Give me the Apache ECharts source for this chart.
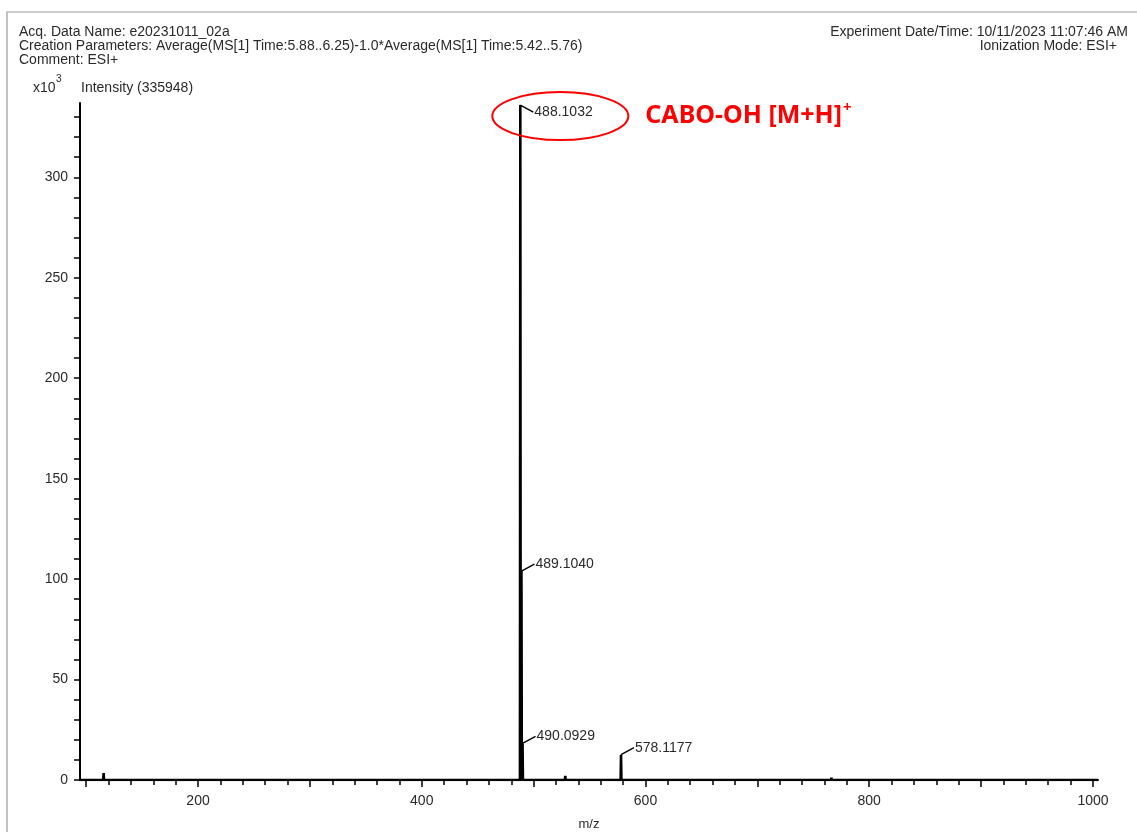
<!DOCTYPE html>
<html>
<head>
<meta charset="utf-8">
<script src="https://cdn.jsdelivr.net/npm/echarts@6/dist/echarts.min.js"></script>
<style>
  html, body { margin: 0; padding: 0; background: #fff; }
  #spec { width: 1137px; height: 832px; }
</style>
</head>
<body>
<div id="spec"></div>
<script>
// peaks (m/z, intensity in x10^3)
var peakMz = [115.6, 160.5, 215.0, 488.1032, 489.1040, 490.0929, 528.3, 578.1177, 766.2]
var peakInt = [3.4, 0.5, 0.6, 335.948, 104.0, 18.2, 2.0, 12.6, 1.2]
// peaks that carry an m/z label
var labelMz = [488.1032, 489.1040, 490.0929, 578.1177]

// axis ticks / tick labels
var xMin = 94.5
var xMax = 1004.5
var yMax = 337
var xMinorTicks = [100, 120, 140, 160, 180, 200, 220, 240, 260, 280, 300, 320, 340, 360, 380, 400, 420, 440, 460, 480, 500,
  520, 540, 560, 580, 600, 620, 640, 660, 680, 700, 720, 740, 760, 780, 800, 820, 840, 860, 880, 900, 920, 940, 960, 980, 1000]
var xMajorTicks = [100, 200, 300, 400, 500, 600, 700, 800, 900, 1000]
var xLabels = [200, 400, 600, 800, 1000]
var yTicks = [0, 10, 20, 30, 40, 50, 60, 70, 80, 90, 100, 110, 120, 130, 140, 150, 160, 170, 180, 190, 200,
  210, 220, 230, 240, 250, 260, 270, 280, 290, 300, 310, 320, 330]
var yLabels = [0, 50, 100, 150, 200, 250, 300]

var FONT = 'Liberation Sans, Arial, sans-serif'
var TXT = '#2a2a2a'

// stick spectrum: baseline with narrow peaks
var specData = [[xMin, 0]]
peakMz.forEach(function (m, i) {
  specData.push([m - 0.35, 0])
  specData.push([m, peakInt[i]])
  specData.push([m + 0.35, 0])
})
specData.push([xMax, 0])

var labelData = labelMz.map(function (m) {
  return [m, peakInt[peakMz.indexOf(m)]]
})

var chart = echarts.init(document.getElementById('spec'))

var option = {
  animation: false,
  backgroundColor: '#fff',
  grid: { left: 80, right: 39, top: 103, bottom: 52, containLabel: false, outerBoundsMode: 'none' },
  xAxis: [{
    type: 'value',
    min: xMin,
    max: xMax,
    name: 'm/z',
    nameLocation: 'middle',
    nameGap: 38,
    nameTextStyle: { color: TXT, fontFamily: FONT, fontSize: 13 },
    axisLine: { onZero: false, lineStyle: { color: '#000', width: 2 } },
    axisTick: { show: true, length: 5, customValues: xMinorTicks, lineStyle: { color: '#000', width: 1.5 } },
    axisLabel: {
      customValues: xLabels,
      color: TXT,
      fontFamily: FONT,
      fontSize: 14,
      margin: 14,
      formatter: function (v) { return String(v) }
    },
    splitLine: { show: false }
  }, {
    type: 'value',
    position: 'bottom',
    min: xMin,
    max: xMax,
    axisLine: { show: false },
    axisTick: { show: true, length: 7, customValues: xMajorTicks, lineStyle: { color: '#000', width: 1.5 } },
    axisLabel: { show: false },
    splitLine: { show: false }
  }],
  yAxis: {
    type: 'value',
    min: 0,
    max: yMax,
    axisLine: { show: true, onZero: false, lineStyle: { color: '#000', width: 2 } },
    axisTick: { show: true, length: 6, customValues: yTicks, lineStyle: { color: '#000', width: 1.5 } },
    axisLabel: { customValues: yLabels, color: TXT, fontFamily: FONT, fontSize: 14, margin: 12 },
    splitLine: { show: false }
  },
  series: [{
    type: 'line',
    data: specData,
    showSymbol: false,
    symbol: 'none',
    lineStyle: { color: '#000', width: 2.6 },
    z: 3
  }, {
    type: 'custom',
    data: labelData,
    clip: false,
    z: 4,
    renderItem: function (params, api) {
      var p = api.coord([api.value(0), api.value(1)])
      // label of the tallest peak hangs down, the others go up
      var dy = p[1] < params.coordSys.y + 20 ? 7 : -7
      var x1 = p[0] + 13
      var y1 = p[1] + dy
      return {
        type: 'group',
        children: [{
          type: 'line',
          shape: { x1: p[0], y1: p[1], x2: x1, y2: y1 },
          style: { stroke: '#000', lineWidth: 1.4 }
        }, {
          type: 'text',
          style: {
            text: api.value(0).toFixed(4),
            x: x1 + 1,
            y: y1,
            verticalAlign: 'middle',
            fill: TXT,
            font: '14px ' + FONT
          }
        }]
      }
    }
  }]
}

chart.setOption(option)

// header texts, frame and annotation
var peakTop = chart.convertToPixel({ xAxisIndex: 0, yAxisIndex: 0 }, [488.1032, 335.948])
chart.setOption({
  graphic: [
    { type: 'polyline', shape: { points: [[7, 832], [7, 12], [1137, 12]] }, style: { stroke: '#9a9a9a', lineWidth: 1.2, fill: 'none' } },
    { type: 'text', left: 19, top: 25, style: { text: 'Acq. Data Name: e20231011_02a', fill: TXT, font: '14px ' + FONT } },
    { type: 'text', left: 19, top: 39, style: { text: 'Creation Parameters: Average(MS[1] Time:5.88..6.25)-1.0*Average(MS[1] Time:5.42..5.76)', fill: TXT, font: '14px ' + FONT } },
    { type: 'text', left: 19, top: 53, style: { text: 'Comment: ESI+', fill: TXT, font: '14px ' + FONT } },
    { type: 'text', right: 9, top: 25, style: { text: 'Experiment Date/Time: 10/11/2023 11:07:46 AM', fill: TXT, font: '14px ' + FONT } },
    { type: 'text', right: 20, top: 39, style: { text: 'Ionization Mode: ESI+', fill: TXT, font: '14px ' + FONT } },
    { type: 'text', left: 33, top: 81, style: { text: 'x10', fill: TXT, font: '14px ' + FONT } },
    { type: 'text', left: 56, top: 74, style: { text: '3', fill: TXT, font: '10px ' + FONT } },
    { type: 'text', left: 81, top: 81, style: { text: 'Intensity (335948)', fill: TXT, font: '14px ' + FONT } },
    {
      type: 'ellipse',
      shape: { cx: peakTop[0] + 40, cy: peakTop[1] + 11, rx: 68, ry: 24 },
      style: { fill: 'none', stroke: '#ff0000', lineWidth: 2 },
      z: 10
    },
    {
      type: 'text',
      x: peakTop[0] + 125,
      y: peakTop[1] + 11,
      style: {
        text: '{m|CABO-OH [M+H]}{s|+}',
        verticalAlign: 'middle',
        rich: {
          m: { fill: '#ff0000', fontFamily: 'Noto Sans', fontWeight: 'bold', fontSize: 25 },
          s: { fill: '#ff0000', fontFamily: 'Noto Sans', fontWeight: 'bold', fontSize: 15, padding: [0, 0, 16, 1] }
        }
      },
      z: 10
    }
  ]
})

window.addEventListener('resize', function () {
  chart.resize()
})
</script>
</body>
</html>
